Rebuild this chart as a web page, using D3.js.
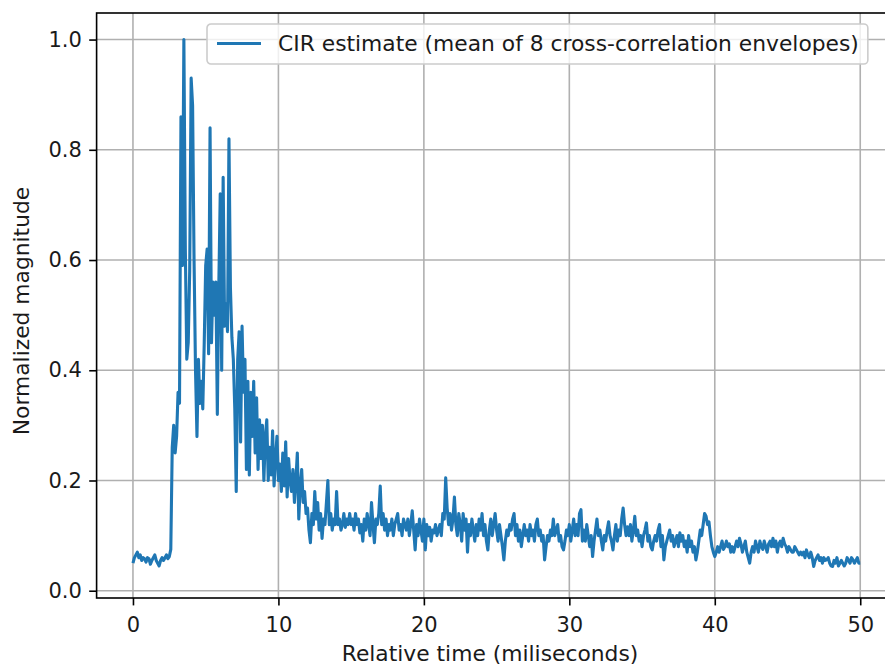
<!DOCTYPE html>
<html>
<head>
<meta charset="utf-8">
<script src="https://cdn.jsdelivr.net/npm/d3@7"></script>
<style>
  body { margin: 0; background: #fff; }
  svg { display: block; font-family: "DejaVu Sans", sans-serif; }
</style>
</head>
<body>
<div id="graph"></div>
<script>

//----------------------------------------------------------
// data

// one sample every 0.1 ms, from 0 to 50 ms
var g_sample_step = 0.1;

var g_magnitude = [
    0.05, 0.06, 0.065, 0.07, 0.06, 0.065, 0.055, 0.06, 0.058, 0.052,
    0.06, 0.058, 0.048, 0.055, 0.06, 0.065, 0.055, 0.05, 0.045, 0.055,
    0.06, 0.055, 0.06, 0.065, 0.058, 0.062, 0.075, 0.26, 0.30, 0.25,
    0.28, 0.36, 0.34, 0.86, 0.59, 1.0, 0.62, 0.42, 0.45, 0.58,
    0.93, 0.88, 0.60, 0.40, 0.28, 0.42, 0.34, 0.38, 0.33, 0.45,
    0.59, 0.62, 0.43, 0.84, 0.45, 0.56, 0.50, 0.56, 0.32, 0.55,
    0.72, 0.40, 0.75, 0.48, 0.52, 0.47, 0.82, 0.55, 0.46, 0.42,
    0.33, 0.18, 0.42, 0.47, 0.27, 0.48, 0.36, 0.42, 0.22, 0.38,
    0.21, 0.36, 0.28, 0.38, 0.25, 0.35, 0.22, 0.31, 0.24, 0.30,
    0.20, 0.28, 0.31, 0.20, 0.26, 0.21, 0.29, 0.19, 0.24, 0.28,
    0.20, 0.23, 0.18, 0.25, 0.19, 0.27, 0.17, 0.24, 0.20, 0.18,
    0.22, 0.16, 0.20, 0.25, 0.13, 0.19, 0.22, 0.16, 0.18, 0.14,
    0.15, 0.11, 0.087, 0.14, 0.12, 0.18, 0.13, 0.16, 0.11, 0.14,
    0.095, 0.13, 0.12, 0.16, 0.20, 0.12, 0.14, 0.11, 0.13, 0.12,
    0.18, 0.12, 0.13, 0.11, 0.12, 0.14, 0.115, 0.13, 0.12, 0.14,
    0.12, 0.13, 0.11, 0.14, 0.12, 0.13, 0.105, 0.12, 0.09, 0.13,
    0.11, 0.14, 0.12, 0.10, 0.16, 0.12, 0.087, 0.13, 0.12, 0.14,
    0.19, 0.12, 0.14, 0.11, 0.13, 0.10, 0.12, 0.11, 0.13, 0.10,
    0.12, 0.13, 0.14, 0.11, 0.12, 0.10, 0.13, 0.12, 0.11, 0.13,
    0.10, 0.12, 0.145, 0.11, 0.074, 0.12, 0.10, 0.13, 0.11, 0.09,
    0.13, 0.074, 0.12, 0.10, 0.115, 0.09, 0.11, 0.105, 0.12, 0.10,
    0.11, 0.12, 0.10, 0.14, 0.13, 0.205, 0.15, 0.12, 0.14, 0.11,
    0.13, 0.17, 0.12, 0.10, 0.14, 0.12, 0.09, 0.14, 0.11, 0.13,
    0.07, 0.12, 0.10, 0.13, 0.11, 0.09, 0.12, 0.10, 0.13, 0.11,
    0.14, 0.10, 0.12, 0.09, 0.074, 0.11, 0.13, 0.10, 0.12, 0.14,
    0.11, 0.09, 0.12, 0.10, 0.08, 0.056, 0.09, 0.11, 0.10, 0.12,
    0.11, 0.13, 0.14, 0.10, 0.12, 0.09, 0.11, 0.08, 0.10, 0.12,
    0.10, 0.11, 0.09, 0.12, 0.10, 0.11, 0.09, 0.12, 0.13, 0.10,
    0.11, 0.09, 0.10, 0.056, 0.08, 0.10, 0.09, 0.11, 0.10, 0.13,
    0.10, 0.11, 0.12, 0.09, 0.10, 0.08, 0.074, 0.09, 0.11, 0.10,
    0.12, 0.09, 0.11, 0.13, 0.10, 0.12, 0.10, 0.14, 0.147, 0.09,
    0.11, 0.09, 0.12, 0.10, 0.08, 0.10, 0.062, 0.09, 0.11, 0.13,
    0.10, 0.11, 0.09, 0.074, 0.10, 0.09, 0.11, 0.125, 0.10, 0.09,
    0.074, 0.10, 0.12, 0.09, 0.11, 0.10, 0.13, 0.15, 0.12, 0.10,
    0.116, 0.10, 0.12, 0.09, 0.11, 0.135, 0.10, 0.11, 0.09, 0.10,
    0.08, 0.10, 0.11, 0.123, 0.09, 0.10, 0.08, 0.074, 0.09, 0.10,
    0.09, 0.11, 0.12, 0.08, 0.10, 0.056, 0.08, 0.09, 0.10, 0.11,
    0.09, 0.10, 0.08, 0.09, 0.10, 0.08, 0.105, 0.09, 0.10, 0.08,
    0.09, 0.07, 0.10, 0.08, 0.09, 0.07, 0.08, 0.056, 0.07, 0.09,
    0.11, 0.10, 0.12, 0.14, 0.135, 0.12, 0.125, 0.10, 0.08, 0.07,
    0.062, 0.07, 0.08, 0.07, 0.08, 0.09, 0.075, 0.08, 0.09, 0.08,
    0.085, 0.07, 0.08, 0.07, 0.08, 0.09, 0.08, 0.095, 0.085, 0.07,
    0.08, 0.09, 0.07, 0.06, 0.05, 0.07, 0.08, 0.07, 0.09, 0.08,
    0.07, 0.09, 0.08, 0.075, 0.09, 0.08, 0.07, 0.085, 0.09, 0.08,
    0.095, 0.08, 0.09, 0.07, 0.085, 0.09, 0.08, 0.095, 0.085, 0.08,
    0.07, 0.08, 0.075, 0.07, 0.07, 0.08, 0.075, 0.07, 0.065, 0.07,
    0.065, 0.07, 0.06, 0.074, 0.065, 0.06, 0.07, 0.06, 0.044, 0.055,
    0.06, 0.065, 0.055, 0.06, 0.05, 0.06, 0.055, 0.056, 0.06, 0.05,
    0.045, 0.044, 0.055, 0.05, 0.06, 0.045, 0.05, 0.055, 0.05, 0.045,
    0.05, 0.06, 0.055, 0.05, 0.06, 0.056, 0.05, 0.055, 0.06, 0.05,
    0.05
];

var g_x_ticks = [0, 10, 20, 30, 40, 50];
var g_y_ticks = [0.0, 0.2, 0.4, 0.6, 0.8, 1.0];

var g_x_label = "Relative time (miliseconds)";
var g_y_label = "Normalized magnitude";
var g_legend_label = "CIR estimate (mean of 8 cross-correlation envelopes)";


//----------------------------------------------------------
var g_width = 885, g_height = 664;
var g_plot = { left: 96.6, right: 896.6, top: 13, bottom: 598 };
var g_frame_right = 887;
var g_tick_font_size = "21px";
var g_font_size = "21.8px";
var g_text_colour = "#1a1a1a";
var g_line_colour = "#1f77b4";
var g_grid_colour = "#b0b0b0";

var g_svg = d3.select("#graph")
  .append("svg")
    .attr("width", g_width)
    .attr("height", g_height);

var g_x = d3.scaleLinear()
    .domain([-2.5, 52.5])
    .range([g_plot.left, g_plot.right]);

var g_y = d3.scaleLinear()
    .domain([-0.0132, 1.0482])
    .range([g_plot.bottom, g_plot.top]);


//----------------------------------------------------------
function DrawGrid() {
    const grid = g_svg.append("g")
        .attr("class", "grid")
        .attr("stroke", g_grid_colour)
        .attr("stroke-width", 1.6);

    grid.selectAll("line.vx")
      .data(g_x_ticks)
      .join("line")
        .attr("class", "vx")
        .attr("x1", function (d) { return g_x(d); })
        .attr("x2", function (d) { return g_x(d); })
        .attr("y1", g_plot.top)
        .attr("y2", g_plot.bottom);

    grid.selectAll("line.hy")
      .data(g_y_ticks)
      .join("line")
        .attr("class", "hy")
        .attr("x1", g_plot.left)
        .attr("x2", g_frame_right)
        .attr("y1", function (d) { return g_y(d); })
        .attr("y2", function (d) { return g_y(d); });
}


function DrawAxes() {
    const x_axis = d3.axisBottom(g_x)
        .tickValues(g_x_ticks)
        .tickFormat(d3.format("d"))
        .tickSize(7.4)
        .tickPadding(11.5);

    const y_axis = d3.axisLeft(g_y)
        .tickValues(g_y_ticks)
        .tickFormat(d3.format(".1f"))
        .tickSize(7.4)
        .tickPadding(7.4);

    const gx = g_svg.append("g")
        .attr("transform", "translate(0," + g_plot.bottom + ")")
        .call(x_axis);

    const gy = g_svg.append("g")
        .attr("transform", "translate(" + g_plot.left + ",0)")
        .call(y_axis);

    [gx, gy].forEach(function (g) {
        g.select(".domain").remove();
        g.selectAll(".tick line")
            .attr("stroke", "#000")
            .attr("stroke-width", 1.6);
        g.selectAll(".tick text")
            .attr("fill", g_text_colour)
            .style("font-family", "DejaVu Sans")
            .style("font-size", g_tick_font_size);
    });

    // frame
    g_svg.append("rect")
        .attr("x", g_plot.left)
        .attr("y", g_plot.top)
        .attr("width", g_frame_right - g_plot.left)
        .attr("height", g_plot.bottom - g_plot.top)
        .attr("fill", "none")
        .attr("stroke", "#000")
        .attr("stroke-width", 1.6);

    g_svg.append("text")
        .attr("x", 490)
        .attr("y", 661)
        .attr("text-anchor", "middle")
        .attr("fill", g_text_colour)
        .style("font-size", g_font_size)
        .text(g_x_label);

    g_svg.append("text")
        .attr("transform", "translate(29,311) rotate(-90)")
        .attr("text-anchor", "middle")
        .attr("fill", g_text_colour)
        .style("font-size", g_font_size)
        .text(g_y_label);
}


function DrawLine() {
    const line = d3.line()
        .x(function (d, i) { return g_x(i * g_sample_step); })
        .y(function (d) { return g_y(d); });

    g_svg.append("path")
        .datum(g_magnitude)
        .attr("fill", "none")
        .attr("stroke", g_line_colour)
        .attr("stroke-width", 3.1)
        .attr("stroke-linejoin", "round")
        .attr("d", line);
}


function DrawLegend() {
    const legend = g_svg.append("g")
        .attr("transform", "translate(207,24)");

    const label = legend.append("text")
        .attr("x", 71)
        .attr("y", 27)
        .attr("fill", g_text_colour)
        .style("font-size", g_font_size)
        .text(g_legend_label);

    const text_width = label.node().getComputedTextLength();

    legend.insert("rect", "text")
        .attr("width", 71 + text_width + 9)
        .attr("height", 40)
        .attr("rx", 4)
        .attr("fill", "#fff")
        .attr("fill-opacity", 0.8)
        .attr("stroke", "#cccccc")
        .attr("stroke-width", 1.6);

    legend.insert("line", "text")
        .attr("x1", 10)
        .attr("x2", 54)
        .attr("y1", 19.5)
        .attr("y2", 19.5)
        .attr("stroke", g_line_colour)
        .attr("stroke-width", 3.1);
}


//----------------------------------------------------------
DrawGrid();
DrawLine();
DrawAxes();
DrawLegend();

</script>
</body>
</html>
